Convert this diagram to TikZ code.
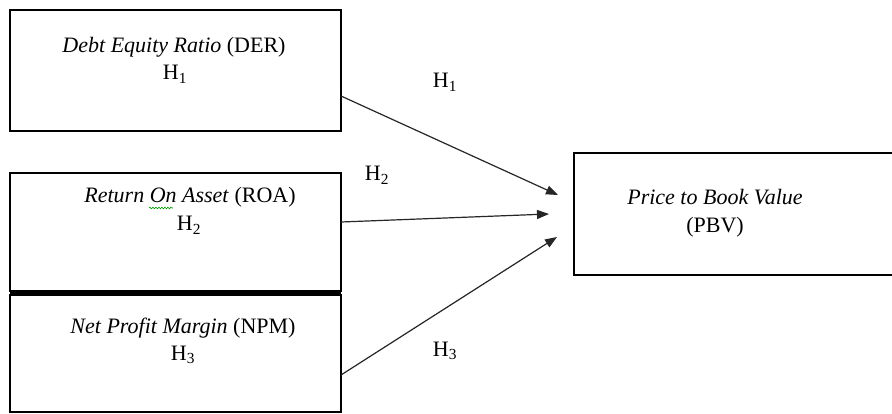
\documentclass[tikz,border=0pt]{standalone}
\usepackage{fontspec}
\setmainfont{Liberation Serif}
\usetikzlibrary{arrows.meta,decorations.pathmorphing}
\begin{document}
\begin{tikzpicture}[x=1pt,y=-1pt,
  box/.style={draw=black,line width=2pt,inner sep=0pt,outer sep=0pt},
  txt/.style={font=\fontsize{22}{26}\selectfont,inner sep=0pt,anchor=base},
  arr/.style={draw=black!85,line width=1.2pt,-{Triangle[length=12pt,width=9pt]}}]
\useasboundingbox (0,0) rectangle (892,414);
\fill[white] (0,0) rectangle (892,414);
% boxes
\node[box,minimum width=331pt,minimum height=121pt] (der) at (175.5,70.5) {};
\node[box,minimum width=331pt,minimum height=118pt] (roa) at (175.5,232) {};
\node[box,minimum width=331pt,minimum height=117pt] (npm) at (175.5,353.5) {};
\fill (10,290) rectangle (341,296);
\node[box,minimum width=340pt,minimum height=122pt] (pbv) at (744,214) {};
% texts
\node[txt] (tder) at (174,53) {\textit{Debt Equity Ratio} (DER)};
\node[txt] (hder) at (175,80) {H\textsubscript{1}};
\node[txt] (troa) at (190,203) {\textit{Return On Asset} (ROA)};
\node[txt] (hroa) at (189,231) {H\textsubscript{2}};
\node[txt] (tnpm) at (183,333) {\textit{Net Profit Margin} (NPM)};
\node[txt] (hnpm) at (183,360) {H\textsubscript{3}};
\node[txt] (tpbv) at (715,205) {\textit{Price to Book Value}};
\node[txt] (hpbv) at (715,233) {(PBV)};
% spell-check squiggle under "On"
\draw[green!60!black,line width=0.6pt,decorate,decoration={snake,amplitude=0.8pt,segment length=3pt}] (149,208) -- (173,208);
% arrow ends
\coordinate (e1) at (558,195);
\coordinate (e2) at (549,214);
\coordinate (e3) at (557,237);
\draw[arr] ([yshift=-25.5pt]der.east) -- (e1);
\draw[arr] ([yshift=10pt]roa.east) -- (e2);
\draw[arr] ([yshift=-21.5pt]npm.east) -- (e3);
% labels
\node[txt] (l1) at (445,88) {H\textsubscript{1}};
\node[txt] (l2) at (377,181) {H\textsubscript{2}};
\node[txt] (l3) at (445,356) {H\textsubscript{3}};
\end{tikzpicture}
\end{document}
